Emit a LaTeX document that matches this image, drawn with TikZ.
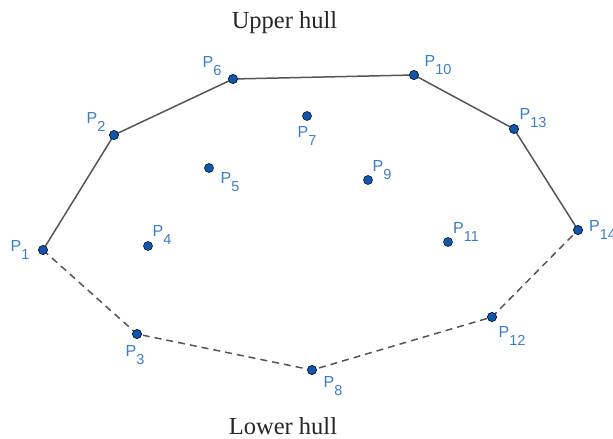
\documentclass[tikz,border=0pt]{standalone}
\usepackage{fontspec}
\setmainfont{Liberation Serif}
\newfontfamily\labfont{Liberation Sans}
\newcommand\plab[1]{P\raisebox{-0.45em}{\fontsize{14.5}{14.5}\selectfont #1}}
\definecolor{labblue}{RGB}{60,125,200}
\definecolor{dotblue}{RGB}{20,85,170}
\definecolor{hullgray}{RGB}{85,85,85}
\tikzset{
  pt/.style={circle,fill=dotblue,draw=black!70!dotblue,line width=0.6pt,inner sep=0pt,minimum size=9pt},
  lab/.style={text=labblue,font=\labfont\fontsize{16}{16}\selectfont,inner sep=0pt},
  upper/.style={draw=hullgray,line width=1.5pt},
  lower/.style={draw=hullgray,line width=1.5pt,dash pattern=on 7pt off 5pt},
  title/.style={font=\fontsize{24.5}{24.5}\selectfont,text=black!85,anchor=base,inner sep=0pt}
}
\begin{document}
\begin{tikzpicture}[x=1pt,y=-1pt]
\useasboundingbox (0,0) rectangle (613,439);
\node[title] (up) at (284.5,28) {Upper hull};
\node[title] (lo) at (283,434) {Lower hull};
% points
\node[pt] (p1) at (43,250) {};
\node[pt] (p2) at (114,135) {};
\node[pt] (p3) at (137,334) {};
\node[pt] (p4) at (148,246) {};
\node[pt] (p5) at (209,168) {};
\node[pt] (p6) at (233,79) {};
\node[pt] (p7) at (307,116) {};
\node[pt] (p8) at (312,370) {};
\node[pt] (p9) at (368,180) {};
\node[pt] (p10) at (414,75) {};
\node[pt] (p11) at (448,242) {};
\node[pt] (p12) at (492,317) {};
\node[pt] (p13) at (514,129) {};
\node[pt] (p14) at (578,230) {};
% hull
\draw[upper] (p1.center) -- (p2.center) -- (p6.center) -- (p10.center) -- (p13.center) -- (p14.center);
\draw[lower] (p1.center) -- (p3.center) -- (p8.center) -- (p12.center) -- (p14.center);
% redraw hull dots on top of the lines
\foreach \n in {p1,p2,p3,p6,p8,p10,p12,p13,p14} {\node[pt] at (\n) {};}
% labels
\node[lab] (l1) at (20,250) {\plab{1}};
\node[lab] (l2) at (96,122) {\plab{2}};
\node[lab] (l3) at (135,355) {\plab{3}};
\node[lab] (l4) at (162,235) {\plab{4}};
\node[lab] (l5) at (230,182) {\plab{5}};
\node[lab] (l6) at (212,66) {\plab{6}};
\node[lab] (l7) at (307,136) {\plab{7}};
\node[lab] (l8) at (333,386) {\plab{8}};
\node[lab] (l9) at (382,170) {\plab{9}};
\node[lab] (l10) at (438,65) {\plab{10}};
\node[lab] (l11) at (466,232) {\plab{11}};
\node[lab] (l12) at (512,336) {\plab{12}};
\node[lab] (l13) at (533,118) {\plab{13}};
\node[lab,anchor=west] (l14) at (589,230) {\plab{14}};
\end{tikzpicture}
\end{document}
